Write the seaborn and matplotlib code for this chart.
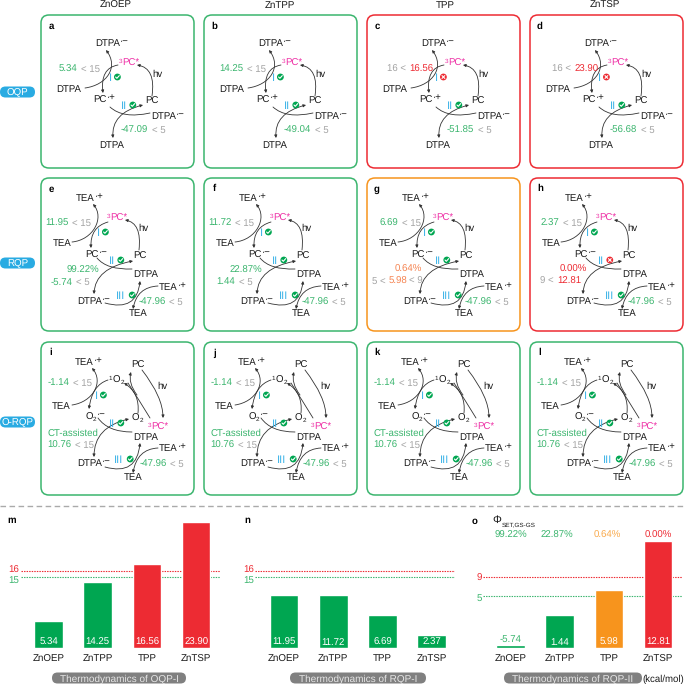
import matplotlib
matplotlib.use('Agg')
import matplotlib.pyplot as plt
import seaborn as sns
from matplotlib.patches import FancyArrowPatch, FancyBboxPatch, Circle
from matplotlib.path import Path

sns.set_theme(style='white')
plt.rcParams['font.family'] = ['Liberation Sans', 'DejaVu Sans']
plt.rcParams['text.hinting'] = 'no_hinting'

GREEN = '#3BB56E'
BAR_GREEN = '#00A651'
RED = '#ED2B33'
ORANGE = '#F7941D'
SOFT_ORANGE = '#F58350'
GREY = '#A3A3A3'
BLUE = '#3FB4E8'
MAGENTA = '#EE2FA5'
DARK = '#1A1A1A'
FS = 6.9
SMALL = 4.6

# column and row titles
samples = ['ZnOEP', 'ZnTPP', 'TPP', 'ZnTSP']
modes = ['OQP', 'RQP', 'O-RQP']

# panels a-d
oqp_letters = ['a', 'b', 'c', 'd']
oqp_step1 = ['5.34', '14.25', '16.56', '23.90']
oqp_step2 = ['-47.09', '-49.04', '-51.85', '-56.68']
oqp_frames = [GREEN, GREEN, RED, RED]
oqp_ok1 = [True, True, False, False]

# panels e-h
rqp_letters = ['e', 'f', 'g', 'h']
rqp_step1 = ['11.95', '11.72', '6.69', '2.37']
rqp_yield = ['99.22%', '22.87%', '0.64%', '0.00%']
rqp_step2 = ['-5.74', '1.44', '5.98', '12.81']
rqp_step3 = ['-47.96', '-47.96', '-47.96', '-47.96']
rqp_frames = [GREEN, GREEN, ORANGE, RED]
rqp_ok2 = [True, True, True, False]

# panels i-l
orqp_letters = ['i', 'j', 'k', 'l']
orqp_step1 = ['-1.14', '-1.14', '-1.14', '-1.14']
orqp_step2 = ['10.76', '10.76', '10.76', '10.76']
orqp_step3 = ['-47.96', '-47.96', '-47.96', '-47.96']

# bar panels: printed values and bar heights
# (the drawing is not to scale, so heights are kept apart from the labels)
m_labels = ['5.34', '14.25', '16.56', '23.90']
m_heights = [27, 66, 84, 126]
m_colors = [BAR_GREEN, BAR_GREEN, RED, RED]
n_labels = ['11.95', '11.72', '6.69', '2.37']
n_heights = [53, 53, 33, 13.5]
n_colors = [BAR_GREEN, BAR_GREEN, BAR_GREEN, BAR_GREEN]
o_labels = ['-5.74', '1.44', '5.98', '12.81']
o_heights = [3, 33, 58, 107]
o_colors = [BAR_GREEN, BAR_GREEN, ORANGE, RED]
o_yields = ['99.22%', '22.87%', '0.64%', '0.00%']
o_yield_colors = [GREEN, GREEN, '#F9A94B', RED]

# dashed levels: (printed label, height on the same drawn scale, colour)
mn_levels = [('16', 77, RED), ('15', 71, GREEN)]
o_levels = [('9', 71.5, RED), ('5', 52, GREEN)]

COL_X = [41, 204, 367, 530]
ROW_Y = [15, 178, 342]
BOX = 153

# chemical labels as (text, size, vertical shift) runs
MINUS = '\u00b7\u2212'
PLUS = '\u00b7+'
DTPA_RAD = [('DTPA', FS, 0), (MINUS, FS, -2.5)]
PC_PLUS = [('PC', FS, 0), (PLUS, FS, -2.5)]
PC_MINUS = [('PC', FS, 0), (MINUS, FS, -2.5)]
TEA_PLUS = [('TEA', FS, 0), (PLUS, FS, -2.5)]
PC_STAR = [('3', SMALL, -2.5), ('PC*', FS, 0)]
O2_SINGLET = [('1', SMALL, -2.5), ('O', FS, 0), ('2', SMALL, 1.8)]
O2_RAD = [('O', FS, 0), ('2', SMALL, 1.8), (MINUS, FS, -2.5)]
O2_PLAIN = [('O', FS, 0), ('2', SMALL, 1.8)]

fig = plt.figure(figsize=(6.85, 6.84), dpi=100)
ax = fig.add_axes([0, 0, 1, 1])
ax.set_xlim(0, 685)
ax.set_ylim(684, 0)
ax.set_axis_off()
renderer = fig.canvas.get_renderer()


def put(x, y, s, color=DARK, size=FS, ha='center', **kw):
    # baseline anchored so that digits, signs and letters line up
    return ax.text(x, y + size * 0.5, s, color=color, fontsize=size, ha=ha,
                   va='baseline', **kw)


def chem(x, y, runs, color=DARK):
    # lay the runs out side by side, centred on x (1 data unit = 1 px)
    parts = [ax.text(0, y + FS * 0.5 + dy, s, color=color, fontsize=sz, ha='left',
                     va='baseline') for s, sz, dy in runs]
    widths = [p.get_window_extent(renderer).width for p in parts]
    cur = x - sum(widths) / 2
    for p, w in zip(parts, widths):
        p.set_x(cur)
        cur += w + 0.3


def curve(ox, oy, p0, c, p1, style='-|>', c2=None):
    if c2 is None:
        pts, codes = (p0, c, p1), [Path.MOVETO, Path.CURVE3, Path.CURVE3]
    else:
        pts, codes = (p0, c, c2, p1), [Path.MOVETO, Path.CURVE4, Path.CURVE4, Path.CURVE4]
    ar = FancyArrowPatch(path=Path([(ox + p[0], oy + p[1]) for p in pts], codes),
                         arrowstyle=style, mutation_scale=4, lw=0.6,
                         color='#333333', zorder=2)
    ax.add_patch(ar)


def badge(x, y, ok):
    ax.add_patch(Circle((x, y), 3.4, color=BAR_GREEN if ok else RED, lw=0, zorder=3))
    if ok:
        ax.plot([x - 1.8, x - 0.5, x + 1.9], [y, y + 1.3, y - 1.4],
                color='white', lw=0.8, zorder=4)
    else:
        ax.plot([x - 1.4, x + 1.4], [y - 1.4, y + 1.4], color='white', lw=0.8, zorder=4)
        ax.plot([x - 1.4, x + 1.4], [y + 1.4, y - 1.4], color='white', lw=0.8, zorder=4)


def step(ox, oy, x, y, numeral, ok=True):
    put(ox + x, oy + y, numeral, color=BLUE, size=8)
    badge(ox + x + 4 + 2.4 * len(numeral), oy + y, ok)


def compare(x, y, left, right, cl, cr):
    put(x - 1.7, y, left, color=cl, ha='right')
    put(x + 1.7, y, right, color=cr, ha='left')


def frame(ox, oy, color, letter):
    ax.add_patch(FancyBboxPatch((ox, oy), BOX, BOX,
                                boxstyle='round,pad=0,rounding_size=8',
                                fc='white', ec=color, lw=1.1, zorder=1))
    put(ox + 10, oy + 10, letter, color='black', fontweight='bold')


def lower_cycle(ox, oy, ytxt):
    # step III loop shared by the RQP and O-RQP panels
    curve(ox, oy, (64, 125), (96, 134), (99, ytxt), '-|>')
    curve(ox, oy, (117, ytxt + 5), (96, ytxt + 6), (92, 131), '-|>')


# row and column headers
for cx, s in zip([116, 280, 445, 605], samples):
    put(cx, 4.5, s, size=7)
for cy, s in zip([92, 263, 422], modes):
    ax.add_patch(FancyBboxPatch((0, cy - 5.5), 35, 11,
                                boxstyle='round,pad=0,rounding_size=5.5',
                                fc='#29ABE2', ec='none', zorder=2, clip_on=False))
    put(17.5, cy, s, color='white', size=7, zorder=3)

# first row
split1 = [38, 41, 40.5, 43]
for i in range(4):
    ox, oy = COL_X[i], ROW_Y[0]
    frame(ox, oy, oqp_frames[i], oqp_letters[i])
    chem(ox + 71, oy + 28, DTPA_RAD)
    chem(ox + 88, oy + 47, PC_STAR, color=MAGENTA)
    put(ox + 116, oy + 59, 'hv')
    put(ox + 28, oy + 74, 'DTPA')
    chem(ox + 63, oy + 84, PC_PLUS)
    put(ox + 111, oy + 85, 'PC')
    chem(ox + 127, oy + 101, DTPA_RAD)
    put(ox + 71, oy + 130, 'DTPA')
    step(ox, oy, 70, 62, 'I', oqp_ok1[i])
    step(ox, oy, 83, 90, 'II')
    if oqp_ok1[i]:
        compare(ox + split1[i], oy + 53, oqp_step1[i], '< 15', GREEN, GREY)
    else:
        compare(ox + split1[i], oy + 53, '16 <', oqp_step1[i], GREY, RED)
    compare(ox + 109, oy + 114, oqp_step2[i], '< 5', GREEN, GREY)
    curve(ox, oy, (111, 81), (115, 53), (96, 50), '-|>')
    curve(ox, oy, (44, 73), (66, 70), (65, 35), '-|>', c2=(78, 52))
    curve(ox, oy, (77, 50), (59, 53), (62, 78), '-|>')
    curve(ox, oy, (69, 92), (82, 104), (109, 98), '-')
    curve(ox, oy, (102, 90), (70, 98), (72, 123), '<|-|>')

# second row
split_r1 = [29.5, 29, 33, 31]
for i in range(4):
    ox, oy = COL_X[i], ROW_Y[1]
    frame(ox, oy, rqp_frames[i], rqp_letters[i])
    chem(ox + 49, oy + 20, TEA_PLUS)
    chem(ox + 76, oy + 39, PC_STAR, color=MAGENTA)
    put(ox + 102, oy + 50, 'hv')
    put(ox + 21, oy + 65, 'TEA')
    chem(ox + 55, oy + 76, PC_MINUS)
    put(ox + 99, oy + 77, 'PC')
    put(ox + 105, oy + 96, 'DTPA')
    chem(ox + 132, oy + 109, TEA_PLUS)
    chem(ox + 53, oy + 123, DTPA_RAD)
    put(ox + 97, oy + 135, 'TEA')
    step(ox, oy, 58, 54, 'I')
    step(ox, oy, 71, 82, 'II', rqp_ok2[i])
    step(ox, oy, 80, 117, 'III')
    compare(ox + split_r1[i], oy + 44, rqp_step1[i], '< 15', GREEN, GREY)
    compare(ox + 126.5, oy + 123, rqp_step3[i], '< 5', GREEN, GREY)
    if i < 2:
        put(ox + 42, oy + 91, rqp_yield[i], color=GREEN)
        compare(ox + 33, oy + 103, rqp_step2[i], '< 5', GREEN, GREY)
    elif i == 2:
        put(ox + 41, oy + 90, rqp_yield[i], color=SOFT_ORANGE)
        put(ox + 19, oy + 102, '5 <', color=GREY, ha='right')
        put(ox + 30.5, oy + 102, rqp_step2[i], color=SOFT_ORANGE)
        put(ox + 42, oy + 102, '< 9', color=GREY, ha='left')
    else:
        put(ox + 43, oy + 90, rqp_yield[i], color=RED)
        compare(ox + 25.5, oy + 102, '9 <', rqp_step2[i], GREY, RED)
    curve(ox, oy, (98, 72), (101, 45), (84, 42), '-|>')
    curve(ox, oy, (31, 64), (52, 62), (52, 26), '-|>', c2=(64, 40))
    curve(ox, oy, (67, 44), (49, 49), (50, 70), '-|>')
    curve(ox, oy, (56, 80), (66, 92), (91, 91), '-')
    curve(ox, oy, (92, 83), (54, 90), (53, 116), '<|-|>')
    lower_cycle(ox, oy, 103)

# third row
for i in range(4):
    ox, oy = COL_X[i], ROW_Y[2]
    frame(ox, oy, GREEN, orqp_letters[i])
    chem(ox + 48, oy + 20, TEA_PLUS)
    put(ox + 97, oy + 22, 'PC')
    chem(ox + 75, oy + 37, O2_SINGLET)
    put(ox + 121, oy + 44, 'hv')
    put(ox + 20, oy + 64, 'TEA')
    chem(ox + 54, oy + 74, O2_RAD)
    chem(ox + 96, oy + 75, O2_PLAIN)
    chem(ox + 117, oy + 84, PC_STAR, color=MAGENTA)
    put(ox + 105, oy + 95, 'DTPA')
    chem(ox + 132, oy + 106, TEA_PLUS)
    chem(ox + 53, oy + 121, DTPA_RAD)
    put(ox + 92, oy + 135, 'TEA')
    put(ox + 32, oy + 90, 'CT-assisted', color=GREEN)
    step(ox, oy, 56, 53, 'I')
    step(ox, oy, 71, 81, 'II')
    step(ox, oy, 78, 117, 'III')
    compare(ox + 30, oy + 40, orqp_step1[i], '< 15', GREEN, GREY)
    compare(ox + 32.5, oy + 102, orqp_step2[i], '< 15', GREEN, GREY)
    compare(ox + 127.5, oy + 121, orqp_step3[i], '< 5', GREEN, GREY)
    curve(ox, oy, (97, 71), (99, 51), (83, 41), '-|>')
    curve(ox, oy, (96, 53), (87, 41), (90, 30), '-|>')
    curve(ox, oy, (101, 28), (122, 55), (122, 76), '-|>')
    curve(ox, oy, (109, 76), (98, 58), (87, 41), '-')
    curve(ox, oy, (31, 63), (52, 60), (51, 26), '-|>', c2=(63, 40))
    curve(ox, oy, (67, 38), (51, 43), (48, 67), '-|>')
    curve(ox, oy, (57, 76), (67, 90), (91, 90), '-')
    curve(ox, oy, (88, 77), (53, 85), (53, 115), '<|-|>')
    lower_cycle(ox, oy, 101)

# separator between the schemes and the bars
ax.plot([0, 685], [506, 506], color='#AAAAAA', lw=1.0, ls=(0, (4, 2.5)))


def bar_panel(left, right, centre0, labels, heights, colors, levels):
    # axes placed so that bars share the drawn baseline at y = 648 px
    base, top = 648.3, 510
    bar_ax = fig.add_axes([left / 685, (684 - base) / 684,
                           (right - left) / 685, (base - top) / 684])
    bar_ax.patch.set_alpha(0)
    sns.barplot(x=samples, y=heights, hue=samples, palette=colors, dodge=False,
                legend=False, width=0.585, saturation=1, ax=bar_ax)
    pitch = 49.2
    bar_ax.set_xlim((left - centre0) / pitch, (right - centre0) / pitch)
    bar_ax.set_ylim(0, base - top)
    for lab, h, col in levels:
        bar_ax.axhline(h, color=col, lw=0.8, ls=(0, (1.3, 1.0)), zorder=0.5)
    bar_ax.set_yticks([])
    bar_ax.set_ylabel('')
    bar_ax.set_xlabel('')
    bar_ax.tick_params(axis='x', length=0, pad=9.5, labelsize=7, labelcolor=DARK)
    for lbl in bar_ax.get_xticklabels():
        lbl.set_va('baseline')
    sns.despine(ax=bar_ax, left=True, bottom=True)
    for k, (lab, h) in enumerate(zip(labels, heights)):
        if h < 10:
            bar_ax.text(k, h + 1, lab, color=GREEN, fontsize=FS, ha='center', va='bottom')
        else:
            bar_ax.text(k, 3, lab, color='white', fontsize=FS, ha='center', va='baseline')
    return bar_ax


bar_panel(21, 220, 48.5, m_labels, m_heights, m_colors, mn_levels)
bar_panel(255, 455, 284, n_labels, n_heights, n_colors, mn_levels)
bar_panel(483, 682, 510.5, o_labels, o_heights, o_colors, o_levels)

# bar panel annotations
put(12, 520, 'm', color='black', fontweight='bold')
put(247, 520, 'n', color='black', fontweight='bold')
put(475, 520, 'o', color='black', fontweight='bold')
for x in (14, 249):
    put(x, 569, '16', color=RED, size=7)
    put(x, 579, '15', color=GREEN, size=7)
put(479, 577, '9', color=RED, size=7)
put(479, 597, '5', color=GREEN, size=7)
put(497, 519, '\u03a6', color=DARK, size=8)
put(502, 524, 'SET,GS-GS', size=4.6, ha='left')
for cx, s, c in zip([511, 557, 607, 658], o_yields, o_yield_colors):
    put(cx, 534, s, color=c)

for x0, x1, s in [(52, 186, 'Thermodynamics of OQP-I'),
                  (290, 426, 'Thermodynamics of RQP-I'),
                  (504, 642, 'Thermodynamics of RQP-II')]:
    ax.add_patch(FancyBboxPatch((x0, 672.5), x1 - x0, 11,
                                boxstyle='round,pad=0,rounding_size=5.5',
                                fc='#808080', ec='none', zorder=2))
    put((x0 + x1) / 2, 678, s, color='#E6E6E6', size=7.2, zorder=3)
put(663, 678, '(kcal/mol)', size=6.9)

fig.savefig('out.png', dpi=100)
